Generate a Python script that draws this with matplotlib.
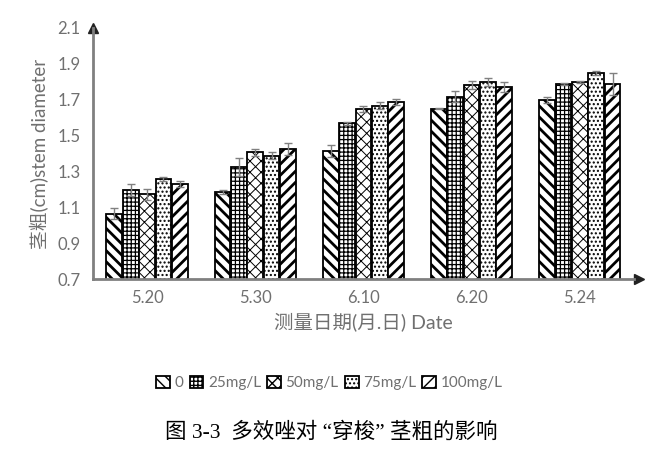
import numpy as np
import matplotlib
matplotlib.use("Agg")
import matplotlib.pyplot as plt

plt.rcParams['font.family'] = ['Lato', 'Noto Sans CJK SC', 'DejaVu Sans']

dates = ['5.20', '5.30', '6.10', '6.20', '5.24']
labels = ['0', '25mg/L', '50mg/L', '75mg/L', '100mg/L']

# mean stem diameter (cm) per treatment, one value per date
d0   = [1.065, 1.186, 1.415, 1.651, 1.700]
d25  = [1.195, 1.326, 1.568, 1.718, 1.788]
d50  = [1.173, 1.406, 1.648, 1.782, 1.799]
d75  = [1.257, 1.387, 1.666, 1.797, 1.849]
d100 = [1.231, 1.425, 1.685, 1.769, 1.788]

e0   = [0.030, 0.010, 0.035, 0.004, 0.017]
e25  = [0.033, 0.050, 0.010, 0.028, 0.006]
e50  = [0.030, 0.020, 0.015, 0.020, 0.004]
e75  = [0.010, 0.020, 0.020, 0.022, 0.013]
e100 = [0.015, 0.035, 0.017, 0.028, 0.060]

series = [d0, d25, d50, d75, d100]
errs = [e0, e25, e50, e75, e100]
hatches = ['\\\\\\', '++++', 'xxx', '....', '///']
hlw = [2.0, 0.9, 0.7, 1.0, 2.0]

grey = '#808080'
fig = plt.figure(figsize=(6.59, 4.51), dpi=100)
ax = fig.add_axes([0.141, 0.381, 0.821, 0.557])

x = np.arange(len(dates))
w = 0.145
for i in range(5):
    bars = ax.bar(x + (i - 2) * 0.151, series[i], w, bottom=0, color='white',
                  edgecolor='black', linewidth=1.3, hatch=hatches[i], label=labels[i],
                  yerr=errs[i], capsize=3,
                  error_kw=dict(ecolor=grey, elinewidth=1, capthick=1))
    for b in bars:
        if hasattr(b, 'set_hatch_linewidth'):
            b.set_hatch_linewidth(hlw[i])

ax.set_ylim(0.7, 2.1)
ax.set_xlim(-0.5, 4.5)
ax.set_yticks(np.arange(0.7, 2.11, 0.2))
ax.set_yticklabels(['%.1f' % v for v in np.arange(0.7, 2.11, 0.2)])
ax.set_xticks(x)
ax.set_xticklabels(dates)
ax.tick_params(length=0, colors='#707070', labelsize=12)
ax.tick_params(axis='x', pad=8)
ax.tick_params(axis='y', pad=9)

for s in ['top', 'right']:
    ax.spines[s].set_visible(False)
for s in ['left', 'bottom']:
    ax.spines[s].set_color(grey)
    ax.spines[s].set_linewidth(2)
ax.plot(0, 1.0, '^', color='#222222', ms=7, transform=ax.transAxes, clip_on=False)
ax.plot(1.01, 0, '>', color='#222222', ms=7, transform=ax.transAxes, clip_on=False)

ax.set_ylabel('茎粗(cm)stem diameter', color='#707070', fontsize=13.5, labelpad=6)
ax.set_xlabel('测量日期(月.日) Date', color='#707070', fontsize=14, labelpad=4)

leg = fig.legend(loc='center', bbox_to_anchor=(0.5, 0.151), ncol=5, frameon=False,
                 fontsize=11, handlelength=0.9, handleheight=0.9,
                 columnspacing=0.4, handletextpad=0.3)
for t in leg.get_texts():
    t.set_color('#707070')

fig.text(0.503, 0.042, '图 3-3  多效唑对 “穿梭” 茎粗的影响', ha='center', va='center',
         fontsize=15.5, color='black', family=['Liberation Serif', 'Noto Sans CJK SC'])

fig.savefig('out.png', dpi=100)
